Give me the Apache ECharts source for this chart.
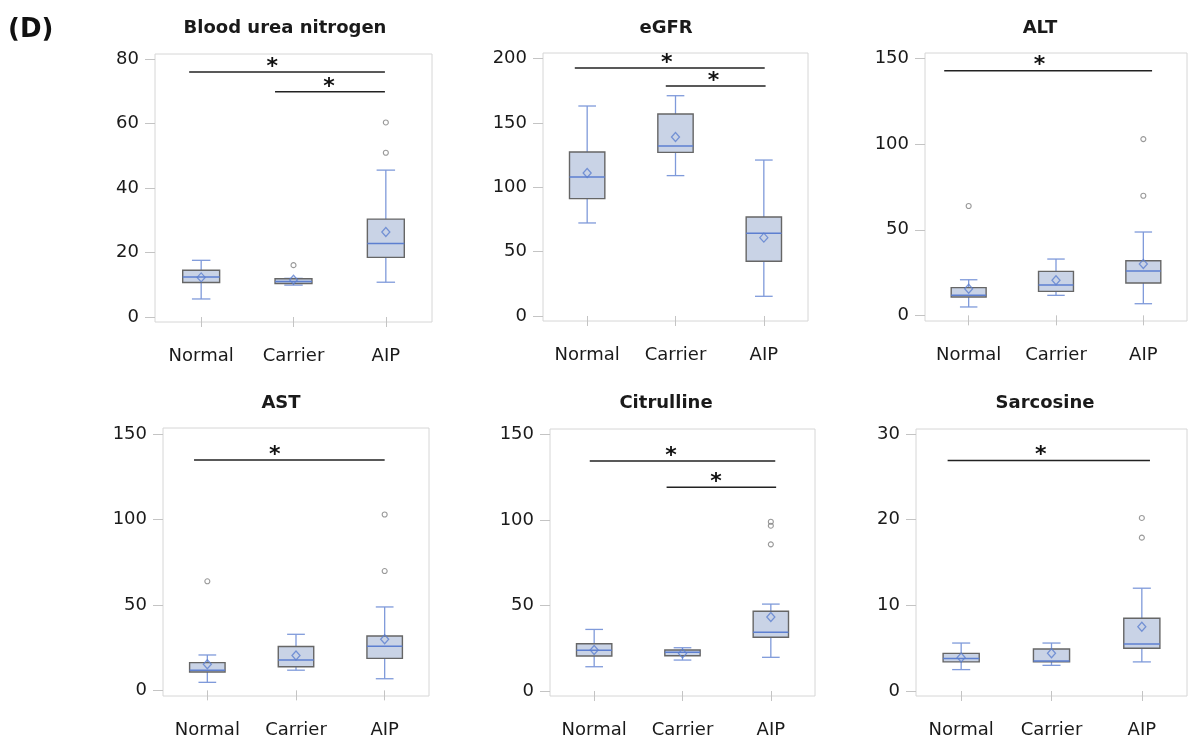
<!DOCTYPE html>
<html><head><meta charset="utf-8">
<script src="https://cdn.jsdelivr.net/npm/echarts@6/dist/echarts.min.js"></script>
<style>html,body{margin:0;padding:0;background:#fff}#c{width:1189px;height:740px}</style>
</head><body><div id="c"></div>
<script>
const categories = ['Normal', 'Carrier', 'AIP'];
const titles = ['Blood urea nitrogen', 'eGFR', 'ALT', 'AST', 'Citrulline', 'Sarcosine'];

// Box stats per group: [whiskerLow, Q1, median, Q3, whiskerHigh] for Normal, Carrier, AIP
const bunBox = [[5.6, 10.7, 12.4, 14.5, 17.6], [9.9, 10.4, 11.0, 11.9, 12.0], [10.8, 18.5, 22.8, 30.4, 45.6]];
const bunMean = [12.3, 11.6, 26.4];
const bunOutliers = [[2, 16.1], [3, 60.4], [3, 51.0]];
const bunTicks = [0, 20, 40, 60, 80];
const bunSig = [[0.87, 2.99, 76.1, 1.77], [1.80, 2.99, 69.9, 2.385]];

const egfrBox = [[72.3, 91.2, 108.0, 127.4, 163.2], [109.1, 127.2, 132.1, 157.0, 171.2], [15.3, 42.5, 64.3, 76.9, 121.2]];
const egfrMean = [111.1, 139.1, 60.9];
const egfrOutliers = [];
const egfrTicks = [0, 50, 100, 150, 200];
const egfrSig = [[0.86, 3.01, 192.7, 1.9], [1.89, 3.02, 178.7, 2.43]];

const altBox = [[4.9, 10.7, 11.7, 16.2, 20.8], [11.7, 14.0, 17.7, 25.7, 32.9], [6.8, 18.9, 25.9, 31.9, 48.7]];
const altMean = [15.6, 20.5, 30.0];
const altOutliers = [[1, 63.9], [3, 103.0], [3, 69.9]];
const altTicks = [0, 50, 100, 150];
const altSig = [[0.72, 3.10, 143.0, 1.81]];

const astBox = [[4.7, 10.7, 11.7, 16.2, 20.7], [11.8, 13.8, 17.7, 25.7, 32.8], [6.8, 18.7, 25.8, 31.8, 48.8]];
const astMean = [15.3, 20.4, 29.9];
const astOutliers = [[1, 63.8], [3, 102.9], [3, 69.8]];
const astTicks = [0, 50, 100, 150];
const astSig = [[0.85, 3.00, 134.8, 1.76]];

const citBox = [[14.2, 20.5, 23.8, 27.6, 36.0], [18.1, 20.6, 22.6, 24.0, 25.3], [19.7, 31.4, 34.3, 46.6, 50.8]];
const citMean = [24.0, 22.0, 43.2];
const citOutliers = [[3, 98.9], [3, 96.6], [3, 85.7]];
const citTicks = [0, 50, 100, 150];
const citSig = [[0.95, 3.05, 134.4, 1.87], [1.82, 3.06, 119.0, 2.38]];

const sarBox = [[2.5, 3.4, 3.8, 4.4, 5.6], [3.0, 3.4, 3.5, 4.9, 5.6], [3.4, 5.0, 5.5, 8.5, 12.0]];
const sarMean = [3.9, 4.4, 7.5];
const sarOutliers = [[3, 20.2], [3, 17.9]];
const sarTicks = [0, 10, 20, 30];
const sarSig = [[0.85, 3.09, 26.9, 1.88]];

const panels = [
  {box: bunBox, mean: bunMean, out: bunOutliers, ticks: bunTicks, sig: bunSig, min: -1.55, max: 81.65,
   grid: {left: 155, top: 54, width: 277, height: 268}, title: [285, 28]},
  {box: egfrBox, mean: egfrMean, out: egfrOutliers, ticks: egfrTicks, sig: egfrSig, min: -3.9, max: 204.4,
   grid: {left: 543, top: 53, width: 265, height: 268}, title: [666, 28]},
  {box: altBox, mean: altMean, out: altOutliers, ticks: altTicks, sig: altSig, min: -3.3, max: 153.3,
   grid: {left: 925, top: 53, width: 262, height: 268}, title: [1040, 28]},
  {box: astBox, mean: astMean, out: astOutliers, ticks: astTicks, sig: astSig, min: -3.3, max: 153.5,
   grid: {left: 163, top: 428, width: 266, height: 268}, title: [281, 403]},
  {box: citBox, mean: citMean, out: citOutliers, ticks: citTicks, sig: citSig, min: -2.9, max: 153.1,
   grid: {left: 550, top: 429, width: 265, height: 267}, title: [666, 403]},
  {box: sarBox, mean: sarMean, out: sarOutliers, ticks: sarTicks, sig: sarSig, min: -0.58, max: 30.58,
   grid: {left: 916, top: 429, width: 271, height: 267}, title: [1045, 403]}
];

const FONT = 'DejaVu Sans';
const BLUE = '#5d7fd0';
const WHISK = '#7f9ada';

function renderBox(params, api) {
  const x = api.value(0);
  const lo = api.coord([x, api.value(1)]);
  const q1 = api.coord([x, api.value(2)]);
  const med = api.coord([x, api.value(3)]);
  const q3 = api.coord([x, api.value(4)]);
  const hi = api.coord([x, api.value(5)]);
  const band = api.size([1, 0])[0];
  const bw = band * 0.4, cw = band * 0.2;
  const cx = lo[0];
  const ws = {stroke: WHISK, lineWidth: 1.3};
  return {type: 'group', children: [
    {type: 'line', shape: {x1: cx, y1: hi[1], x2: cx, y2: q3[1]}, style: ws},
    {type: 'line', shape: {x1: cx, y1: q1[1], x2: cx, y2: lo[1]}, style: ws},
    {type: 'line', shape: {x1: cx - cw / 2, y1: hi[1], x2: cx + cw / 2, y2: hi[1]}, style: ws},
    {type: 'line', shape: {x1: cx - cw / 2, y1: lo[1], x2: cx + cw / 2, y2: lo[1]}, style: ws},
    {type: 'rect', shape: {x: cx - bw / 2, y: q3[1], width: bw, height: Math.max(q1[1] - q3[1], 1)},
     style: {fill: '#c9d3e6', stroke: '#666', lineWidth: 1.4}},
    {type: 'line', shape: {x1: cx - bw / 2, y1: med[1], x2: cx + bw / 2, y2: med[1]},
     style: {stroke: BLUE, lineWidth: 1.5}}
  ]};
}

function renderSig(params, api) {
  const a = api.coord([api.value(0), api.value(2)]);
  const b = api.coord([api.value(1), api.value(2)]);
  const s = api.coord([api.value(3), api.value(2)]);
  return {type: 'group', children: [
    {type: 'line', shape: {x1: a[0], y1: a[1], x2: b[0], y2: b[1]}, style: {stroke: '#222', lineWidth: 1.5}},
    {type: 'text', x: s[0], y: s[1] - 5, style: {text: '*', fill: '#111', font: 'bold 22px ' + FONT,
      align: 'center', verticalAlign: 'middle'}}
  ]};
}

const option = {
  backgroundColor: '#fff',
  animation: false,
  grid: [], xAxis: [], yAxis: [], series: [],
  graphic: [{type: 'text', x: 8, y: 30, style: {text: '(D)', font: 'bold 26px ' + FONT, fill: '#111',
    verticalAlign: 'middle'}}]
};

panels.forEach((p, i) => {
  option.grid.push(Object.assign({show: true, borderColor: '#d6d6d6', borderWidth: 1, backgroundColor: '#fff'}, p.grid));
  option.xAxis.push({
    type: 'value', gridIndex: i, min: 0.5, max: 3.5,
    axisLine: {show: false}, splitLine: {show: false},
    axisTick: {show: true, customValues: [1, 2, 3], length: 10, lineStyle: {color: '#c4c4c4'}},
    axisLabel: {customValues: [1, 2, 3], formatter: v => categories[Math.round(v) - 1] || '',
      fontSize: 18, color: '#1a1a1a', fontFamily: FONT, margin: 25}
  });
  option.yAxis.push({
    type: 'value', gridIndex: i, min: p.min, max: p.max,
    axisLine: {show: false}, splitLine: {show: false},
    axisTick: {show: true, customValues: p.ticks, length: 10, lineStyle: {color: '#c4c4c4'}},
    axisLabel: {customValues: p.ticks, fontSize: 18, color: '#1a1a1a', fontFamily: FONT, margin: 16}
  });
  option.series.push({
    type: 'custom', xAxisIndex: i, yAxisIndex: i, renderItem: renderBox,
    encode: {x: 0, y: [1, 2, 3, 4, 5]},
    data: p.box.map((b, k) => [k + 1].concat(b)), z: 2
  });
  option.series.push({
    type: 'scatter', xAxisIndex: i, yAxisIndex: i, symbol: 'diamond', symbolSize: [8, 9],
    itemStyle: {color: 'rgba(255,255,255,0)', borderColor: BLUE, borderWidth: 1.3},
    data: p.mean.map((m, k) => [k + 1, m]), z: 3
  });
  option.series.push({
    type: 'scatter', xAxisIndex: i, yAxisIndex: i, symbol: 'circle', symbolSize: 5,
    itemStyle: {color: 'rgba(255,255,255,0)', borderColor: '#808080', borderWidth: 1.1},
    data: p.out, z: 3
  });
  option.series.push({
    type: 'custom', xAxisIndex: i, yAxisIndex: i, renderItem: renderSig,
    encode: {x: [0, 1, 3], y: 2}, data: p.sig, z: 4, clip: false
  });
  option.graphic.push({type: 'text', x: p.title[0], y: p.title[1],
    style: {text: titles[i], font: 'bold 18px ' + FONT, fill: '#1a1a1a', align: 'center', verticalAlign: 'middle'}});
});

const chart = echarts.init(document.getElementById('c'), null, {renderer: 'canvas'});
chart.setOption(option);
</script>
</body></html>
